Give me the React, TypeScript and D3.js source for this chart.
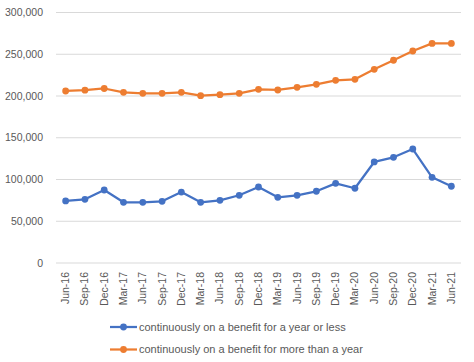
import { useMemo } from "react";
import * as d3 from "d3";

const categories = [
  "Jun-16", "Sep-16", "Dec-16", "Mar-17", "Jun-17", "Sep-17", "Dec-17",
  "Mar-18", "Jun-18", "Sep-18", "Dec-18", "Mar-19", "Jun-19", "Sep-19",
  "Dec-19", "Mar-20", "Jun-20", "Sep-20", "Dec-20", "Mar-21", "Jun-21",
];

const yearOrLess = [
  74300, 76300, 87400, 72700, 72700, 73900, 85000, 72700, 75100, 81100, 91000,
  78700, 81100, 85900, 95400, 89500, 121000, 126600, 136500, 102600, 91900,
];

const moreThanYear = [
  206000, 207000, 209000, 204400, 203200, 203200, 204400, 200400, 201600,
  203200, 208000, 207200, 210400, 214000, 218800, 220000, 232000, 242800,
  253900, 263000, 263000,
];

const yTicks = [0, 50000, 100000, 150000, 200000, 250000, 300000];

const series = [
  { name: "continuously on a benefit for a year or less", values: yearOrLess, color: "#4472C4" },
  { name: "continuously on a benefit for more than a year", values: moreThanYear, color: "#ED7D31" },
];

const W = 474;
const H = 362;
const left = 56;
const right = 461;
const top = 12.5;
const bottom = 263;
const font = "'Liberation Sans', Arial, sans-serif";
const textColor = "#595959";

export default function App() {
  const x = useMemo(
    () => d3.scaleBand<string>().domain(categories).range([left, right]),
    []
  );
  const y = useMemo(
    () => d3.scaleLinear().domain([0, 300000]).range([bottom, top]),
    []
  );
  const fmt = d3.format(",");
  const cx = (c: string) => (x(c) ?? 0) + x.bandwidth() / 2;

  const line = d3
    .line<number>()
    .x((_, i) => cx(categories[i]))
    .y((d) => y(d));

  return (
    <svg
      width={W}
      height={H}
      style={{ position: "absolute", left: 0, top: 0, background: "#fff" }}
      fontFamily={font}
    >
      {yTicks.map((t) => (
        <g key={t}>
          <line x1={left} x2={right} y1={y(t)} y2={y(t)} stroke="#d9d9d9" strokeWidth={1} />
          <text
            x={43}
            y={y(t)}
            dy="0.35em"
            textAnchor="end"
            fontSize={10.5}
            fill={textColor}
          >
            {fmt(t)}
          </text>
        </g>
      ))}

      {categories.map((c) => (
        <text
          key={c}
          transform={`translate(${cx(c) + 3.5},${bottom + 9}) rotate(-90)`}
          textAnchor="end"
          fontSize={10.5}
          fill={textColor}
        >
          {c}
        </text>
      ))}

      {series.map((s) => (
        <g key={s.name}>
          <path
            d={line(s.values) ?? ""}
            fill="none"
            stroke={s.color}
            strokeWidth={2.25}
            strokeLinejoin="round"
          />
          {s.values.map((v, i) => (
            <circle key={i} cx={cx(categories[i])} cy={y(v)} r={3.4} fill={s.color} />
          ))}
        </g>
      ))}

      {series.map((s, i) => {
        const ly = 327 + i * 22.5;
        return (
          <g key={s.name}>
            <line x1={110} x2={137} y1={ly} y2={ly} stroke={s.color} strokeWidth={2.25} />
            <circle cx={123.5} cy={ly} r={3.4} fill={s.color} />
            <text x={139} y={ly} dy="0.35em" fontSize={11} fill={textColor}>
              {s.name}
            </text>
          </g>
        );
      })}
    </svg>
  );
}
